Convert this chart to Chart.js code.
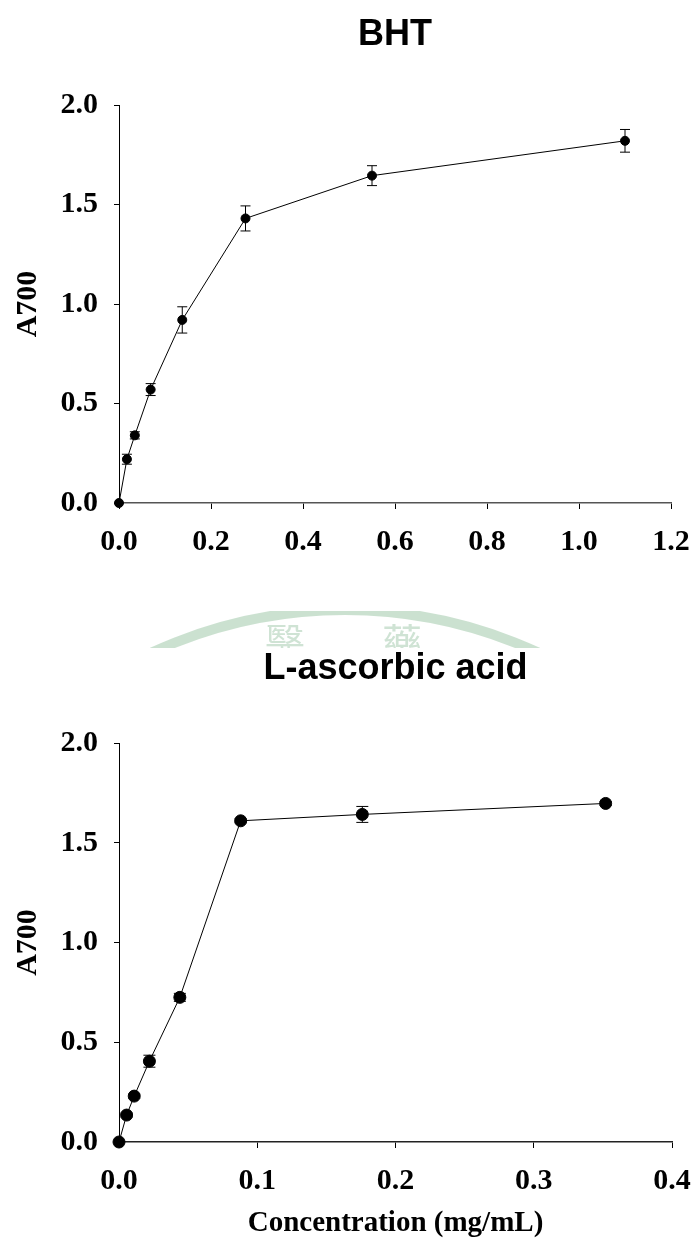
<!DOCTYPE html>
<html>
<head>
<meta charset="utf-8">
<script src="https://cdn.jsdelivr.net/npm/chart.js@4.4.0/dist/chart.umd.min.js"></script>
<style>
  html, body { margin: 0; padding: 0; background: #ffffff; }
  body { width: 693px; height: 1247px; position: relative; overflow: hidden; }
  canvas { position: absolute; left: 0; }
  #c1 { top: 0; }
  #c2 { top: 600px; }
</style>
</head>
<body>
<canvas id="c1" width="693" height="600"></canvas>
<canvas id="c2" width="693" height="647"></canvas>
<script>
// ---- Data ----
const bhtConc = [0, 0.0172, 0.0344, 0.0688, 0.1375, 0.275, 0.55, 1.1];
const bhtA700 = [0, 0.22, 0.34, 0.57, 0.92, 1.43, 1.645, 1.82];
const bhtErr  = [0, 0.025, 0.018, 0.03, 0.066, 0.063, 0.05, 0.057];

const ascConc = [0, 0.0055, 0.011, 0.022, 0.044, 0.088, 0.176, 0.352];
const ascA700 = [0, 0.135, 0.23, 0.405, 0.725, 1.61, 1.642, 1.697];
const ascErr  = [0, 0.01, 0.01, 0.03, 0.02, 0.01, 0.04, 0.01];

// ---- Ticks ----
const bhtXTicks  = [0, 0.2, 0.4, 0.6, 0.8, 1.0, 1.2];
const bhtXLabels = ['0.0', '0.2', '0.4', '0.6', '0.8', '1.0', '1.2'];
const ascXTicks  = [0, 0.1, 0.2, 0.3, 0.4];
const ascXLabels = ['0.0', '0.1', '0.2', '0.3', '0.4'];
const yTicks  = [0, 0.5, 1.0, 1.5, 2.0];
const yLabels = ['0.0', '0.5', '1.0', '1.5', '2.0'];

const serif = "'Liberation Serif', 'Times New Roman', Times, serif";
const sans = "'Liberation Sans', Arial, Helvetica, sans-serif";

const errorBarPlugin = {
  id: 'errorBars',
  afterDatasetsDraw(chart, args, opts) {
    const ctx = chart.ctx;
    const xs = chart.scales.x, ys = chart.scales.y;
    chart.data.datasets.forEach(ds => {
      if (!ds.errors) return;
      ctx.save();
      ctx.strokeStyle = '#000';
      ctx.lineWidth = 1;
      ds.data.forEach((p, i) => {
        const e = ds.errors[i];
        if (!e) return;
        const px = xs.getPixelForValue(p.x);
        const top = ys.getPixelForValue(p.y + e);
        const bot = ys.getPixelForValue(p.y - e);
        const cw = opts.cap || 5;
        ctx.beginPath();
        ctx.moveTo(px, top); ctx.lineTo(px, bot);
        ctx.moveTo(px - cw, top); ctx.lineTo(px + cw, top);
        ctx.moveTo(px - cw, bot); ctx.lineTo(px + cw, bot);
        ctx.stroke();
      });
      ctx.restore();
    });
  }
};

const watermarkPlugin = {
  id: 'watermark',
  beforeDraw(chart, args, opts) {
    if (!opts.show) return;
    const ctx = chart.ctx;
    ctx.save();
    ctx.beginPath();
    ctx.rect(95, 11, 500, 37);
    ctx.clip();
    ctx.strokeStyle = 'rgba(160,200,170,0.55)';
    ctx.lineWidth = 10;
    ctx.beginPath();
    ctx.arc(345, 470, 460, 0, Math.PI * 2);
    ctx.stroke();
    ctx.fillStyle = 'rgba(160,200,170,0.5)';
    ctx.font = "40px 'Noto Sans CJK TC', 'Noto Sans CJK SC', sans-serif";
    ctx.textBaseline = 'alphabetic';
    ctx.fillText('醫', 265, 58);
    ctx.fillText('藥', 382, 58);
    ctx.restore();
  }
};

function makeChart(id, conc, vals, errs, xTicks, xLabels, xMax, opts) {
  const data = conc.map((c, i) => ({ x: c, y: vals[i] }));
  return new Chart(document.getElementById(id), {
    type: 'scatter',
    data: {
      datasets: [{
        data: data,
        errors: errs,
        showLine: true,
        clip: false,
        borderColor: '#000',
        borderWidth: 1,
        backgroundColor: '#000',
        pointBackgroundColor: '#000',
        pointBorderColor: '#000',
        pointRadius: opts.radius,
        pointHoverRadius: opts.radius,
        tension: 0
      }]
    },
    options: {
      responsive: false,
      animation: false,
      events: [],
      layout: { padding: { top: 0, left: 0, right: opts.padRight, bottom: 0 } },
      plugins: {
        legend: { display: false },
        tooltip: { enabled: false },
        title: {
          display: true,
          text: opts.title,
          fullSize: false,
          color: '#000',
          font: { family: sans, size: 36, weight: 'bold', lineHeight: 1.2 },
          padding: { top: opts.titleTop, bottom: opts.titleBottom }
        },
        errorBars: { cap: opts.cap },
        watermark: { show: opts.watermark }
      },
      scales: {
        x: {
          type: 'linear',
          min: 0,
          max: xMax,
          afterBuildTicks: s => { s.ticks = xTicks.map(v => ({ value: v })); },
          afterFit: s => { s.height = opts.xHeight; s.paddingLeft = 0; s.paddingRight = 0; },
          border: { display: true, color: opts.xBorder, width: 1.5 },
          grid: { drawOnChartArea: false, drawTicks: true, tickLength: 6, color: '#000', tickWidth: 1 },
          ticks: {
            color: '#000',
            padding: 15,
            maxRotation: 0,
            autoSkip: false,
            font: { family: serif, size: 30, weight: 'bold' },
            callback: (v, i) => xLabels[i]
          },
          title: {
            display: !!opts.xTitle,
            text: opts.xTitle || '',
            color: '#000',
            font: { family: serif, size: 29, weight: 'bold' },
            padding: { top: 4, bottom: 6 }
          }
        },
        y: {
          type: 'linear',
          min: 0,
          max: 2.0,
          afterBuildTicks: s => { s.ticks = yTicks.map(v => ({ value: v })); },
          afterFit: s => { s.width = 119; s.paddingTop = 0; s.paddingBottom = 0; },
          border: { display: true, color: '#000', width: 1 },
          grid: { drawOnChartArea: false, drawTicks: true, tickLength: 5, color: '#000', tickWidth: 1 },
          ticks: {
            color: '#000',
            padding: 16,
            autoSkip: false,
            font: { family: serif, size: 30, weight: 'bold' },
            callback: (v, i) => yLabels[i]
          },
          title: {
            display: true,
            text: 'A700',
            color: '#000',
            font: { family: serif, size: 30, weight: 'bold' },
            padding: { top: 10, bottom: 0 }
          }
        }
      }
    },
    plugins: [errorBarPlugin, watermarkPlugin]
  });
}

makeChart('c1', bhtConc, bhtA700, bhtErr, bhtXTicks, bhtXLabels, 1.2, {
  title: 'BHT', titleTop: 13, titleBottom: 105 - 13 - 43.2,
  padRight: 22, xHeight: 97, radius: 4.5, cap: 5, xBorder: '#555', watermark: false
});
makeChart('c2', ascConc, ascA700, ascErr, ascXTicks, ascXLabels, 0.4, {
  title: 'L-ascorbic acid', titleTop: 47, titleBottom: 143 - 47 - 43.2,
  padRight: 21, xHeight: 105, radius: 6, cap: 6, xBorder: '#222', watermark: true,
  xTitle: 'Concentration (mg/mL)'
});
</script>
</body>
</html>
